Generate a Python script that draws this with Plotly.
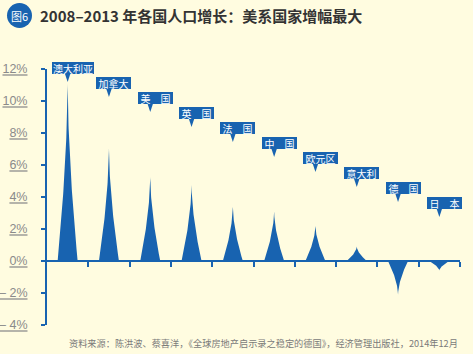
import numpy as np
import plotly.graph_objects as go

# ---- data ----
countries = ["澳大利亚", "加拿大", "美　国", "英　国", "法　国", "中　国", "欧元区", "意大利", "德　国", "日　本"]
growth = [11.1, 7.05, 5.25, 4.75, 3.4, 3.1, 2.2, 0.9, -2.1, -0.6]
y_ticks = [-4, -2, 0, 2, 4, 6, 8, 10, 12]
y_tick_text = ["– 4%", "– 2%", "0%", "2%", "4%", "6%", "8%", "10%", "12%"]
title_text = "2008–2013 年各国人口增长：美系国家增幅最大"
source_text = "资料来源：陈洪波、蔡喜洋，《全球房地产启示录之稳定的德国》，经济管理出版社，2014年12月"

BLUE = "#1863b0"
BG = "#fffce0"
CJK = "Noto Sans CJK SC"

W, H = 473, 354
ML, MR, MT, MB = 47, 13, 69, 29
PW, PH = W - ML - MR, H - MT - MB
YMIN, YMAX = -4, 12
N = len(countries)


def px_to_y(py):
    return YMAX - (py - MT) / PH * (YMAX - YMIN)


def px_to_paper_y(py):
    return (H - MB - py) / PH


def px_to_paper_x(px):
    return (px - ML) / PW


fig = go.Figure()

# spikes
half_w = 0.242
t = np.linspace(0, 1, 60)
for i, v in enumerate(growth):
    hw = half_w * (1 - t) ** 1.7
    xs = np.concatenate([i - hw, (i + hw)[::-1]])
    ys = np.concatenate([v * t, (v * t)[::-1]])
    fig.add_trace(go.Scatter(x=xs, y=ys, fill="toself", fillcolor=BLUE,
                             line=dict(width=0, color=BLUE), mode="lines",
                             hoverinfo="skip", showlegend=False))

# callout labels
annotations = []
for i, name in enumerate(countries):
    box_top = 62 + 15 * i
    box_bot = box_top + 12
    bw = 42 if len(name.replace("　", "")) == 4 else 35
    annotations.append(dict(
        x=i, y=px_to_paper_y(box_top + 6), xref="x", yref="paper", xshift=5,
        text=name, showarrow=False, bgcolor=BLUE, width=bw, height=12,
        borderpad=0, borderwidth=0,
        font=dict(family=CJK, size=10, color="white"),
        xanchor="center", yanchor="middle"))
    # pointer
    pw = 2.8 / (PW / N)
    yb = px_to_y(box_bot - 0.5)
    yt = px_to_y(box_bot + 8)
    fig.add_trace(go.Scatter(x=[i - pw, i + pw, i, i - pw], y=[yb, yb, yt, yb],
                             fill="toself", fillcolor=BLUE, line=dict(width=0, color=BLUE),
                             mode="lines", hoverinfo="skip", showlegend=False))

# title
annotations.append(dict(
    x=px_to_paper_x(38), y=px_to_paper_y(15.5), xref="paper", yref="paper",
    text="<b>" + title_text + "</b>", showarrow=False, xanchor="left", yanchor="middle",
    font=dict(family=CJK, size=15, color="#333333")))
annotations.append(dict(
    x=px_to_paper_x(19.5), y=px_to_paper_y(15.5), xref="paper", yref="paper",
    text="图6", showarrow=False, xanchor="center", yanchor="middle",
    font=dict(family=CJK, size=11, color="white")))
# source
annotations.append(dict(
    x=1, y=px_to_paper_y(343), xref="paper", yref="paper",
    text=source_text, showarrow=False, xanchor="right", yanchor="middle",
    font=dict(family=CJK, size=9.2, color="#7a7a7a")))

shapes = [dict(type="circle", xref="paper", yref="paper",
               xsizemode="pixel", ysizemode="pixel",
               xanchor=px_to_paper_x(19.5), yanchor=px_to_paper_y(15.5),
               x0=-12.5, x1=12.5, y0=-12.5, y1=12.5,
               fillcolor=BLUE, line=dict(width=0))]

fig.update_layout(
    width=W, height=H, margin=dict(l=ML, r=MR, t=MT, b=MB, autoexpand=False),
    paper_bgcolor=BG, plot_bgcolor=BG, showlegend=False,
    annotations=annotations, shapes=shapes,
    xaxis=dict(range=[-0.5, N - 0.5], tickvals=[k + 0.5 for k in range(N)],
               showticklabels=False, ticks="outside", ticklen=5, tickwidth=2,
               tickcolor=BLUE, showline=True, linecolor=BLUE, linewidth=2,
               showgrid=False, zeroline=False, anchor="free", automargin=False,
               position=(0 - YMIN) / (YMAX - YMIN), fixedrange=True),
    yaxis=dict(range=[YMIN, YMAX], tickvals=y_ticks,
               ticktext=["<u>" + s + "</u>" for s in y_tick_text],
               ticks="outside", ticklen=4, tickwidth=2, tickcolor=BLUE,
               showline=True, linecolor=BLUE, linewidth=2, showgrid=False,
               zeroline=False, ticklabelstandoff=11, automargin=False,
               tickfont=dict(family="Liberation Sans", size=12.5, color="#8a8a8a"),
               fixedrange=True),
)

fig.write_html("out.html", config={"displayModeBar": False})
